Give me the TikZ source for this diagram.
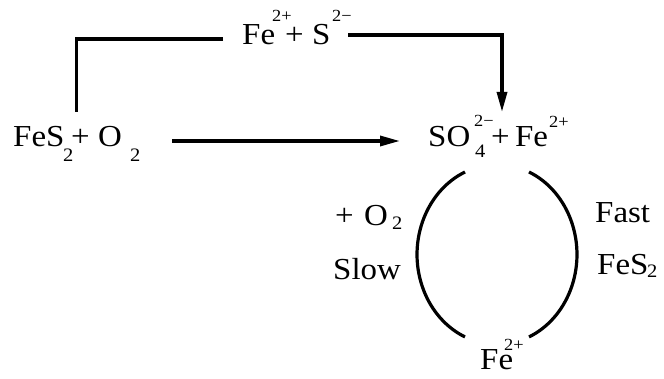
\documentclass[tikz,border=0pt]{standalone}
\usepackage{fontspec}
\setmainfont{Liberation Serif}[FakeStretch=1.08]
\usetikzlibrary{arrows.meta}
\newcommand{\supfont}{\fontsize{17}{17}\selectfont}
\newcommand{\subfont}{\fontsize{19}{19}\selectfont}
\newcommand{\at}[2]{\rlap{\hspace*{#1}#2}}
\newcommand{\up}[2]{\raisebox{#1}{\supfont #2}}
\newcommand{\dn}[2]{\raisebox{-#1}{\subfont #2}}
\begin{document}
\begin{tikzpicture}[x=1pt,y=-1pt,
  lbl/.style={inner sep=0pt, anchor=base west, font=\fontsize{30.5}{34}\selectfont},
  conn/.style={line width=3.2pt},
  arr/.style={conn,-{Triangle[length=20pt,width=10pt]}}]
\useasboundingbox (0,0) rectangle (664,379);
% labels
\node[lbl] (top) at (242,45)
  {\at{0pt}{Fe}\at{30pt}{\up{23pt}{2+}}\at{43pt}{+}\at{70pt}{S}\at{90pt}{\up{23pt}{2−}}\hspace*{111pt}};
\node[lbl] (fes) at (13,147)
  {\at{0pt}{FeS}\at{50pt}{\dn{15pt}{2}}\at{58pt}{+}\at{85pt}{O}\at{117pt}{\dn{15pt}{2}}\hspace*{128pt}};
\node[lbl] (so4) at (428,147)
  {\at{0pt}{SO}\at{46pt}{\up{20pt}{2−}}\at{47pt}{\dn{11pt}{4}}\at{63pt}{+}\at{87pt}{Fe}\at{121pt}{\up{19pt}{2+}}\hspace*{142pt}};
\node[lbl] (plus) at (335,226)
  {\at{0pt}{+}\at{29pt}{O}\at{57pt}{\dn{4pt}{2}}\hspace*{67pt}};
\node[lbl] (slow) at (333,280) {Slow};
\node[lbl] (fast) at (595,223) {Fast};
\node[lbl] (fes2) at (597,275)
  {\at{0pt}{FeS}\at{50pt}{\dn{3pt}{2}}\hspace*{60pt}};
\node[lbl] (fe) at (480,369)
  {\at{0pt}{Fe}\at{24pt}{\up{18pt}{2+}}\hspace*{44pt}};
% connectors
\coordinate (tl) at ([shift={(-19,-6)}]top.base west);
\coordinate (tr) at ([shift={(106,-10)}]top.base west);
\coordinate (fesup) at ([shift={(63.5,-35)}]fes.base west);
\coordinate (so4up) at ([shift={(74,-35)}]so4.base west);
\draw[conn] (tl) -| (fesup);
\draw[arr] (tr) -| (so4up);
\draw[arr] ([shift={(159,-6)}]fes.base west) -- ([shift={(-28,-6)}]so4.base west);
% cycle arcs
\draw[conn] ([shift={(37,25)}]so4.base west) arc[start angle=246.4, end angle=113.6, x radius=80, y radius=90];
\draw[conn] ([shift={(101,25)}]so4.base west) arc[start angle=-66.4, end angle=66.4, x radius=80, y radius=90];
\end{tikzpicture}
\end{document}
